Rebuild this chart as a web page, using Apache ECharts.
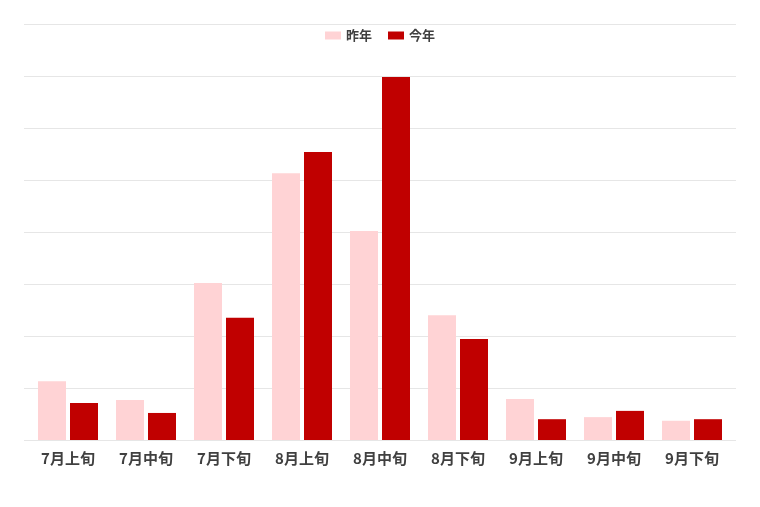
<!DOCTYPE html>
<html>
<head>
<meta charset="utf-8">
<script src="https://cdn.jsdelivr.net/npm/echarts@6/dist/echarts.min.js"></script>
<style>html,body{margin:0;padding:0;background:#fff}#c{width:760px;height:507px}</style>
</head>
<body>
<div id="c"></div>
<script>
const categories = ['7月上旬','7月中旬','7月下旬','8月上旬','8月中旬','8月下旬','9月上旬','9月中旬','9月下旬'];
const lastYear = [113, 77, 302, 513, 402, 240, 79, 44, 37];
const thisYear = [71, 52, 235, 554, 698, 194, 40, 56, 40];
const seriesNames = ['昨年', '今年'];

const chart = echarts.init(document.getElementById('c'), null, {renderer: 'canvas'});
const font = '"Noto Sans CJK JP", "Noto Sans", sans-serif';
chart.setOption({
  animation: false,
  backgroundColor: '#ffffff',
  textStyle: {fontFamily: font},
  legend: {
    top: 24, left: 'center', icon: 'rect',
    itemWidth: 16, itemHeight: 8, itemGap: 16,
    textStyle: {fontFamily: font, fontSize: 13, fontWeight: 'bold', color: '#404040'},
    data: seriesNames
  },
  grid: [
    {left: 24, right: 24, top: 24, bottom: 67, containLabel: false},
    {left: 29, right: 29, top: 24, bottom: 67, containLabel: false}
  ],
  xAxis: [
    {gridIndex: 0, type: 'category', data: categories, show: false},
    {gridIndex: 1, type: 'category', data: categories,
     axisLine: {show: false}, axisTick: {show: false},
     axisLabel: {margin: 11, fontFamily: font, fontSize: 15, fontWeight: 'bold', color: '#404040'}}
  ],
  yAxis: [
    {gridIndex: 0, type: 'value', min: 0, max: 800, interval: 100,
     axisLabel: {show: false}, axisLine: {show: false}, axisTick: {show: false},
     splitLine: {show: true, lineStyle: {color: '#e6e6e6', width: 1}}},
    {gridIndex: 1, type: 'value', min: 0, max: 800, interval: 100,
     axisLabel: {show: false}, axisLine: {show: false}, axisTick: {show: false},
     splitLine: {show: false}}
  ],
  series: [
    {name: seriesNames[0], type: 'bar', xAxisIndex: 1, yAxisIndex: 1, data: lastYear,
     barWidth: 28, barGap: '14.3%', itemStyle: {color: '#FFD3D5'}},
    {name: seriesNames[1], type: 'bar', xAxisIndex: 1, yAxisIndex: 1, data: thisYear,
     barWidth: 28, barGap: '14.3%', itemStyle: {color: '#C00000'}}
  ]
});
</script>
</body>
</html>
